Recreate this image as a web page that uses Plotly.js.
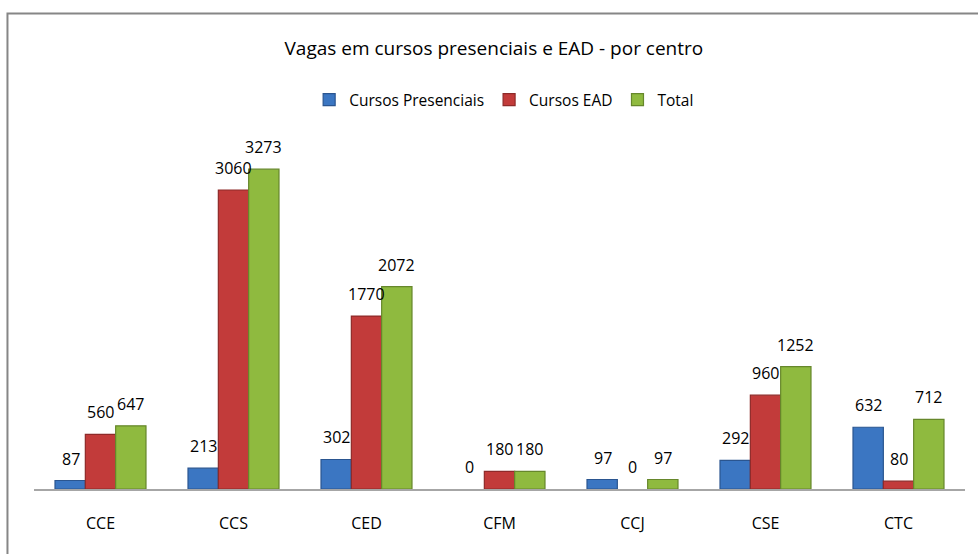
<!DOCTYPE html>
<html>
<head>
<meta charset="utf-8">
<script src="https://cdn.plot.ly/plotly-3.0.1.min.js"></script>
<style>
html,body{margin:0;padding:0;background:#fff;}
#chart{width:978px;height:554px;}
</style>
</head>
<body>
<div id="chart"></div>
<script>
const categories = ["CCE", "CCS", "CED", "CFM", "CCJ", "CSE", "CTC"];
const presenciais = [87, 213, 302, 0, 97, 292, 632];
const ead = [560, 3060, 1770, 180, 0, 960, 80];
const total = [647, 3273, 2072, 180, 97, 1252, 712];

const font = "'Open Sans', 'Noto Sans', sans-serif";

function series(name, vals, color, edge) {
  return {
    type: 'bar', name: name, x: categories, y: vals,
    textposition: 'none',
    marker: {color: color, line: {color: edge, width: vals.map(v => v ? 1.2 : 0)}},
    hoverinfo: 'x+y'
  };
}

const data = [
  series('Cursos Presenciais', presenciais, '#3b76c2', '#2a5590'),
  series('Cursos EAD', ead, '#c23b3a', '#8e2a29'),
  series('Total', total, '#8fba3f', '#66872b')
];

// value labels above bars, taken from the data arrays
const groups = [[presenciais, -30], [ead, 0], [total, 30]];
const annotations = [];
groups.forEach(([vals, dx]) => {
  vals.forEach((v, i) => {
    annotations.push({
      x: categories[i], y: v, xref: 'x', yref: 'y', text: String(v),
      showarrow: false, xanchor: 'center', yanchor: 'bottom', xshift: dx, yshift: 9,
      font: {family: font, size: 16, color: '#000'}
    });
  });
});

const layout = {
  width: 978, height: 554,
  margin: {l: 34, r: 13, t: 147, b: 65},
  paper_bgcolor: '#fff', plot_bgcolor: '#fff',
  title: {text: 'Vagas em cursos presenciais e EAD - por centro', x: 0.505, xanchor: 'center', y: 0.913, yanchor: 'middle',
          font: {family: font, size: 19, color: '#000'}},
  showlegend: true,
  legend: {orientation: 'h', x: 0.505, xanchor: 'center', y: 1.137, yanchor: 'middle',
           font: {family: font, size: 15.5, color: '#000'}, traceorder: 'normal', itemwidth: 30},
  barmode: 'group', bargap: 0.316, bargroupgap: 0,
  xaxis: {showline: true, linecolor: '#a6a6a6', linewidth: 1.5, ticks: '', showgrid: false,
          tickfont: {family: font, size: 16, color: '#000'}, ticklabelstandoff: 19, fixedrange: true},
  yaxis: {range: [0, 3500], visible: false, showgrid: false, zeroline: false, fixedrange: true},
  annotations: annotations,
  shapes: [{
    type: 'path', xref: 'paper', yref: 'paper',
    path: 'M -0.0285,-0.3 L -0.0285,1.39 L 1.1,1.39',
    line: {color: '#868686', width: 2}
  }]
};

Plotly.newPlot('chart', data, layout, {displayModeBar: false, staticPlot: true});
</script>
</body>
</html>
